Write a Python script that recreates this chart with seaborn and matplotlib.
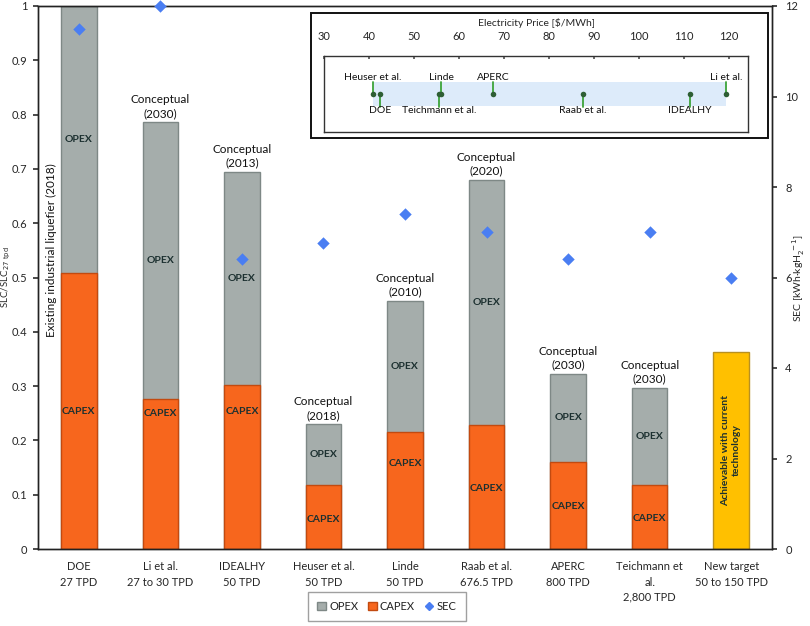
import numpy as np
import pandas as pd
import matplotlib
matplotlib.use("Agg")
import matplotlib.pyplot as plt
import seaborn as sns
from matplotlib.patches import Rectangle, Patch
from matplotlib.lines import Line2D

# ---------------- data ----------------
categories = ["DOE\n27 TPD", "Li et al.\n27 to 30 TPD", "IDEALHY\n50 TPD", "Heuser et al.\n50 TPD",
              "Linde\n50 TPD", "Raab et al.\n676.5 TPD", "APERC\n800 TPD",
              "Teichmann et\nal.\n2,800 TPD", "New target\n50 to 150 TPD"]
slc_total = [1.0, 0.786, 0.695, 0.230, 0.457, 0.680, 0.323, 0.297, 0.363]
slc_capex = [0.508, 0.277, 0.302, 0.118, 0.215, 0.228, 0.160, 0.118, np.nan]
sec_values = [11.5, 12.0, 6.4, 6.77, 7.4, 7.0, 6.4, 7.0, 6.0]
bar_notes = ["", "Conceptual\n(2030)", "Conceptual\n(2013)", "Conceptual\n(2018)", "Conceptual\n(2010)",
             "Conceptual\n(2020)", "Conceptual\n(2030)", "Conceptual\n(2030)", ""]

price_names = ["DOE", "Li et al.", "IDEALHY", "Heuser et al.", "Linde", "Raab et al.", "APERC", "Teichmann et al."]
price_values = [42.5, 119.3, 111.3, 40.8, 56.0, 87.5, 67.6, 55.6]
price_label_above = [False, True, False, True, True, False, True, False]

# layout only: heights of the CAPEX text inside each bar
capex_label_y = [0.254, 0.250, 0.254, 0.055, 0.157, 0.112, 0.078, 0.057]

OPEX_C = "#A5ADAB"
OPEX_E = "#7E8886"
CAPEX_C = "#F7661D"
CAPEX_E = "#C24A10"
YEL_C = "#FFC000"
YEL_E = "#B89020"
SEC_C = "#4A7EF2"
TXT_DARK = "#1C3030"

sns.set_theme(style="white")
plt.rcParams['font.family'] = ['Lato', 'DejaVu Sans']
plt.rcParams['text.color'] = '#222222'

W, H = 810, 626
fig = plt.figure(figsize=(W/100, H/100), dpi=100)
L, R, T, B = 38, 772, 6, 549
ax = fig.add_axes([L/W, 1-B/H, (R-L)/W, (B-T)/H])

df = pd.DataFrame({"cat": categories, "total": slc_total, "capex": slc_capex})
x_idx = np.arange(len(categories))

pal = [OPEX_C]*(len(categories)-1) + [YEL_C]
sns.barplot(data=df, x="cat", y="total", hue="cat", palette=pal, legend=False,
            width=0.435, ax=ax, linewidth=1.0, edgecolor=OPEX_E, saturation=1)
ax.patches[len(categories)-1].set_edgecolor(YEL_E)
sns.barplot(data=df, x="cat", y="capex", color=CAPEX_C, width=0.435, ax=ax,
            linewidth=1.0, edgecolor=CAPEX_E, saturation=1)

ax.set_xlim(-0.5, len(categories)-0.5)
ax.set_ylim(0, 1)
ax.set_yticks(np.arange(0, 1.01, 0.1))
ax.set_yticklabels(["0"] + [f"{v:.1f}" for v in np.arange(0.1, 0.95, 0.1)] + ["1"])
ax.set_xlabel("")
ax.set_ylabel("SLC/SLC$_{27\\ \\mathrm{tpd}}$", fontsize=7)
ax.yaxis.label.set_va('center')
ax.yaxis.set_label_coords(-(L-6.5)/(R-L), 0.5)
ax.set_xticks(x_idx)
ax.set_xticklabels(categories, fontsize=8, linespacing=1.45)
ax.tick_params(axis='y', labelsize=8, length=3.5, direction='out', left=True, color='#333333', pad=4)
ax.tick_params(axis='x', length=0, pad=9)
for s in ax.spines.values():
    s.set_color('#222222')
    s.set_linewidth(1.0)

# OPEX / CAPEX labels
for i in range(len(categories)-1):
    ax.text(i, (slc_capex[i] + slc_total[i]) / 2, "OPEX", ha='center', va='center',
            fontsize=7.5, fontweight='bold', color=TXT_DARK)
    ax.text(i, capex_label_y[i], "CAPEX", ha='center', va='center',
            fontsize=7.5, fontweight='bold', color=TXT_DARK)
    if bar_notes[i]:
        ax.text(i, slc_total[i] + 0.006, bar_notes[i], ha='center', va='bottom',
                fontsize=8.5, linespacing=1.3, color='#111111')
ax.text(len(categories)-1, slc_total[-1] / 2, "Achievable with current\ntechnology",
        rotation=90, ha='center', va='center', fontsize=7.5, fontweight='bold',
        color=TXT_DARK, linespacing=1.2)
ax.text(-0.335, 0.55, "Existing industrial liquefier (2018)", rotation=90,
        ha='center', va='center', fontsize=8.5, color='#111111')

# SEC on secondary axis
ax2 = ax.twinx()
sns.scatterplot(x=x_idx, y=sec_values, marker='D', s=40, color=SEC_C, edgecolor=SEC_C,
                linewidth=0, ax=ax2, zorder=5, clip_on=False)
ax2.set_ylim(0, 12)
ax2.set_yticks(np.arange(0, 12.1, 2))
ax2.set_yticklabels([str(int(v)) for v in np.arange(0, 12.1, 2)])
ax2.tick_params(axis='y', labelsize=8, length=3.5, direction='out', right=True, color='#333333', pad=6)
ax2.set_ylabel("SEC [kWh·kgH$_2^{\\ -1}$]", fontsize=7.5)
ax2.yaxis.label.set_va('center')
ax2.yaxis.set_label_coords(1 + (799-R)/(R-L), 0.5)
for s in ax2.spines.values():
    s.set_color('#222222')
    s.set_linewidth(1.0)

# legend
handles = [Patch(facecolor=OPEX_C, edgecolor=OPEX_E, label="OPEX"),
           Patch(facecolor=CAPEX_C, edgecolor=CAPEX_E, label="CAPEX"),
           Line2D([0], [0], marker='D', color='none', markerfacecolor=SEC_C,
                  markeredgecolor=SEC_C, markersize=4.5, label="SEC")]
leg = fig.legend(handles=handles, loc='center', bbox_to_anchor=(387/W, 1-606.5/H), ncol=3,
                 fontsize=8, frameon=True, fancybox=False, handlelength=0.75, handleheight=0.75,
                 handletextpad=0.3, columnspacing=0.9, borderpad=0.85)
leg.get_frame().set_edgecolor('#888888')
leg.get_frame().set_linewidth(1.0)

# ---------------- inset: electricity price ----------------
fig.patches.append(Rectangle((311/W, 1-138/H), (768-311)/W, (138-12.7)/H,
                             transform=fig.transFigure, facecolor='white',
                             edgecolor='#111111', linewidth=1.4, zorder=3))
il, ir, it, ib = 324, 748, 56, 132
axi = fig.add_axes([il/W, 1-ib/H, (ir-il)/W, (ib-it)/H], zorder=4)
axi.set_facecolor('white')
axi.set_xlim(30, 30 + (ir-il)/4.5)
axi.set_ylim(0, 1)
lo, hi = min(price_values), max(price_values)
axi.axvspan(lo, hi, ymin=0.34, ymax=0.66, color='#DDEBFA', zorder=1, lw=0)
for name, val, above in zip(price_names, price_values, price_label_above):
    if above:
        axi.plot([val, val], [0.50, 0.66], color='#3DA33A', lw=1.3, zorder=2)
        axi.text(val, 0.66, name, ha='center', va='bottom', fontsize=7.5, color='#111111')
    else:
        axi.plot([val, val], [0.50, 0.33], color='#3DA33A', lw=1.3, zorder=2)
        axi.text(val, 0.34, name, ha='center', va='top', fontsize=7.5, color='#111111')
sns.scatterplot(x=price_values, y=[0.50]*len(price_values), color='#2E5E34', s=16,
                linewidth=0, ax=axi, zorder=3)
axi.xaxis.tick_top()
axi.xaxis.set_label_position('top')
axi.set_xticks(np.arange(30, 121, 10))
axi.tick_params(axis='x', direction='in', length=2, labelsize=8, pad=10, top=True, color='#555555')
axi.set_yticks([])
axi.set_xlabel("Electricity Price [\\$/MWh]", fontsize=7.5, labelpad=4)
for s in axi.spines.values():
    s.set_color('#333333')
    s.set_linewidth(1.0)

fig.savefig("out.png", dpi=100)
